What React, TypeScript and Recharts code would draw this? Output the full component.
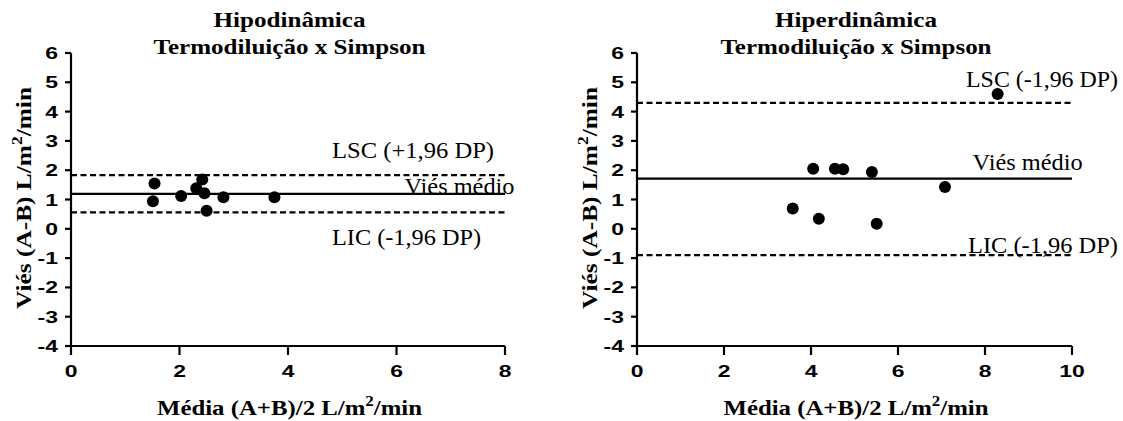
import React from 'react';
import { ScatterChart, Scatter, XAxis, YAxis, ReferenceLine, Label } from 'recharts';

// ---- data ----
const yTicks = [-4, -3, -2, -1, 0, 1, 2, 3, 4, 5, 6];
const hipoXTicks = [0, 2, 4, 6, 8];
const hiperXTicks = [0, 2, 4, 6, 8, 10];

// Hipodinâmica: mean (A+B)/2 vs difference (A-B)
const hipoMean = [1.54, 1.51, 2.03, 2.31, 2.42, 2.46, 2.5, 2.81, 3.75];
const hipoDiff = [1.55, 0.94, 1.12, 1.38, 1.68, 1.21, 0.62, 1.08, 1.08];
const hipoBias = 1.19;
const hipoUpper = 1.83;
const hipoLower = 0.56;

// Hiperdinâmica
const hiperMean = [8.29, 4.05, 4.55, 4.74, 5.4, 7.08, 3.58, 4.18, 5.51];
const hiperDiff = [4.6, 2.05, 2.05, 2.03, 1.94, 1.43, 0.69, 0.34, 0.17];
const hiperBias = 1.71;
const hiperUpper = 4.3;
const hiperLower = -0.9;

const toPoints = (xs: number[], ys: number[]) => xs.map((x, i) => ({ x, y: ys[i] }));

// ---- presentation ----
const SERIF = "Liberation Serif, Times New Roman, serif";
const SANS = "Liberation Sans, Arial, sans-serif";
const CHART_H = 421;

type StretchProps = {
  x: number;
  y: number;
  w: number;
  size: number;
  bold?: boolean;
  anchor?: 'start' | 'middle' | 'end';
  transform?: string;
  children: React.ReactNode;
};

const StretchText = ({ x, y, w, size, bold, anchor = 'start', transform, children }: StretchProps) => (
  <text
    x={x}
    y={y}
    transform={transform}
    fontFamily={SERIF}
    fontSize={size}
    fontWeight={bold ? 700 : 400}
    textAnchor={anchor}
    textLength={w}
    lengthAdjust="spacingAndGlyphs"
    fill="#000"
  >
    {children}
  </text>
);

const UnitText = ({ prefix }: { prefix: string }) => (
  <>
    <tspan>{prefix} L/m</tspan>
    <tspan dy={-9} fontSize={15}>2</tspan>
    <tspan dy={9}>/min</tspan>
  </>
);

const YTick = (props: any) => {
  const { x, y, payload } = props;
  return (
    <text
      transform={`translate(${x},${y + 6}) scale(1.35,1)`}
      textAnchor="end"
      fontFamily={SANS}
      fontSize={17}
      fontWeight={700}
      fill="#000"
    >
      {String(payload.value)}
    </text>
  );
};

const XTick = (props: any) => {
  const { x, y, payload } = props;
  return (
    <text
      transform={`translate(${x},${y + 12}) scale(1.35,1)`}
      textAnchor="middle"
      fontFamily={SANS}
      fontSize={17}
      fontWeight={700}
      fill="#000"
    >
      {String(payload.value)}
    </text>
  );
};

const Dot = (props: any) => <circle cx={props.cx} cy={props.cy} r={6} fill="#000" />;

type LineSpec = {
  y: number;
  dashed: boolean;
  text: string;
  dx: number;
  dy: number;
  w: number;
};

type PanelProps = {
  left: number;
  width: number;
  marginLeft: number;
  marginRight: number;
  title: string;
  titleW: number;
  subtitleW: number;
  xMax: number;
  xTicks: number[];
  points: { x: number; y: number }[];
  lines: LineSpec[];
};

const Panel = (p: PanelProps) => {
  const yAxisW = 60;
  const xAxisH = 30;
  const margin = { top: 53, right: p.marginRight, bottom: 45, left: p.marginLeft };
  const plotLeft = p.marginLeft + yAxisW;
  const plotRight = p.width - p.marginRight;
  const cx = (plotLeft + plotRight) / 2 + 1.5;

  return (
    <div style={{ position: 'absolute', left: p.left, top: 0 }}>
      <ScatterChart width={p.width} height={CHART_H} margin={margin}>
        <StretchText x={cx} y={27} w={p.titleW} size={21} bold anchor="middle">
          {p.title}
        </StretchText>
        <StretchText x={cx} y={53.5} w={p.subtitleW} size={21} bold anchor="middle">
          Termodiluição x Simpson
        </StretchText>
        <XAxis
          type="number"
          dataKey="x"
          domain={[0, p.xMax]}
          ticks={p.xTicks}
          interval={0}
          height={xAxisH}
          axisLine={{ stroke: '#000', strokeWidth: 2.2 }}
          tickLine={{ stroke: '#000', strokeWidth: 2.2 }}
          tickSize={9}
          tickMargin={10}
          tick={<XTick />}
          allowDataOverflow
        >
          <Label
            content={(lp: any) => {
              const vb = lp.viewBox;
              return (
                <StretchText x={vb.x + vb.width / 2 + 1.5} y={vb.y + 69} w={265} size={22} bold anchor="middle">
                  <UnitText prefix="Média (A+B)/2" />
                </StretchText>
              );
            }}
          />
        </XAxis>
        <YAxis
          type="number"
          dataKey="y"
          domain={[-4, 6]}
          ticks={yTicks}
          interval={0}
          width={yAxisW}
          axisLine={{ stroke: '#000', strokeWidth: 2.2 }}
          tickLine={{ stroke: '#000', strokeWidth: 2.2 }}
          tickSize={6}
          tickMargin={7}
          tick={<YTick />}
          allowDataOverflow
        >
          <Label
            content={(lp: any) => {
              const vb = lp.viewBox;
              const bx = vb.x + vb.width - 40;
              const cy = vb.y + vb.height / 2 - 1.5;
              return (
                <StretchText
                  x={0}
                  y={0}
                  w={222}
                  size={22}
                  bold
                  anchor="middle"
                  transform={`translate(${bx},${cy}) rotate(-90)`}
                >
                  <UnitText prefix="Viés (A-B)" />
                </StretchText>
              );
            }}
          />
        </YAxis>
        {p.lines.map((l, i) => (
          <ReferenceLine
            key={i}
            y={l.y}
            stroke="#000"
            strokeWidth={2.2}
            strokeDasharray={l.dashed ? '6 3.5' : undefined}
            label={(lp: any) => {
              const vb = lp.viewBox;
              return (
                <StretchText x={vb.x + l.dx} y={vb.y + l.dy} w={l.w} size={23}>
                  {l.text}
                </StretchText>
              );
            }}
          />
        ))}
        <Scatter data={p.points} shape={<Dot />} isAnimationActive={false} />
      </ScatterChart>
    </div>
  );
};

export default function App() {
  return (
    <div
      style={{
        position: 'absolute',
        left: 0,
        top: 0,
        width: 1123,
        height: CHART_H,
        background: '#fff',
        overflow: 'hidden',
      }}
    >
      <Panel
        left={0}
        width={560}
        marginLeft={11}
        marginRight={55}
        title="Hipodinâmica"
        titleW={152}
        subtitleW={272}
        xMax={8}
        xTicks={hipoXTicks}
        points={toPoints(hipoMean, hipoDiff)}
        lines={[
          { y: hipoUpper, dashed: true, text: 'LSC (+1,96 DP)', dx: 261, dy: -17, w: 162 },
          { y: hipoBias, dashed: false, text: 'Viés médio', dx: 333.5, dy: 0, w: 110 },
          { y: hipoLower, dashed: true, text: 'LIC (-1,96 DP)', dx: 261, dy: 32.5, w: 149 },
        ]}
      />
      <Panel
        left={560}
        width={563}
        marginLeft={17}
        marginRight={51}
        title="Hiperdinâmica"
        titleW={162}
        subtitleW={271}
        xMax={10}
        xTicks={hiperXTicks}
        points={toPoints(hiperMean, hiperDiff)}
        lines={[
          { y: hiperUpper, dashed: true, text: 'LSC (-1,96 DP)', dx: 329, dy: -16, w: 152 },
          { y: hiperBias, dashed: false, text: 'Viés médio', dx: 335.6, dy: -9, w: 110 },
          { y: hiperLower, dashed: true, text: 'LIC (-1,96 DP)', dx: 331, dy: -2.5, w: 150 },
        ]}
      />
    </div>
  );
}
